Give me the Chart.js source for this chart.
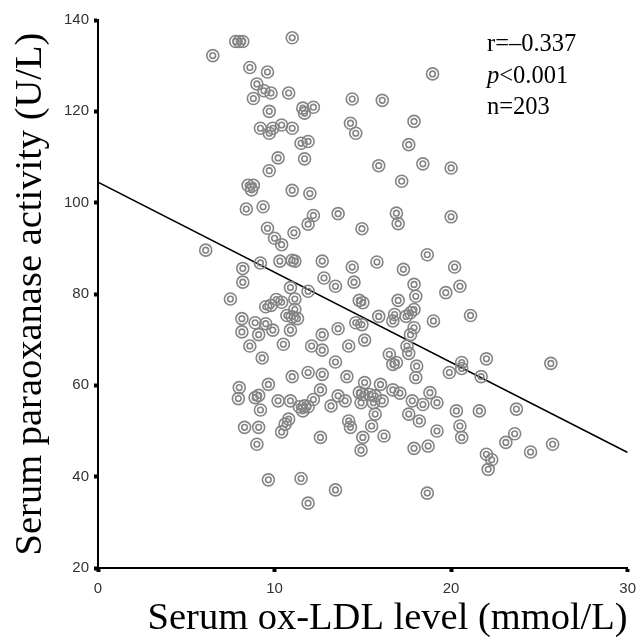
<!DOCTYPE html>
<html>
<head>
<meta charset="utf-8">
<script src="https://cdn.jsdelivr.net/npm/chart.js@4.4.1/dist/chart.umd.min.js"></script>
<style>
  body { margin: 0; background: #fff; }
  #wrap { width: 644px; height: 642px; }
</style>
</head>
<body>
<div id="wrap"><canvas id="chart" width="644" height="642"></canvas></div>
<script>
// serum ox-LDL (mmol/L)
const oxLdl = [
  7.8, 8.0, 8.2, 11.0, 6.5, 8.6, 9.6, 9.0, 9.4, 9.8, 10.8, 8.8, 9.7, 11.6, 11.7, 12.2, 14.4, 14.3, 14.6, 9.2,
  9.7, 9.9, 10.4, 11.0, 11.5, 11.9, 10.2, 9.7, 11.7, 8.5, 8.7, 8.8, 11.0, 12.0,
  18.95, 16.1, 17.9, 17.6, 15.9, 18.4, 20.0, 17.2,
  8.4, 9.35, 12.2, 13.6, 9.6, 10.0, 10.4, 11.1, 11.9, 6.1,
  8.2, 9.2, 10.3, 11.0, 11.15, 12.7, 14.4, 8.2, 10.9, 11.9,
  12.8, 13.45, 14.5, 7.5, 9.5, 9.8, 10.1, 10.4, 11.15, 11.15,
  10.7, 11.0, 11.3, 8.15, 8.9, 9.5, 9.9, 8.15, 9.1, 10.9,
  13.6, 12.7, 14.6, 8.6, 10.5, 12.1, 12.7, 14.2, 9.3, 13.45,
  11.9, 12.7, 11.0, 14.1,
  16.9, 17.0, 20.0, 14.95, 18.65, 15.8, 17.3, 20.2, 17.9, 18.0,
  19.7, 20.5, 14.8, 15.0, 17.0, 15.9, 16.8, 16.7, 17.45, 17.7,
  17.9, 19.0, 21.1, 14.95, 17.9, 17.7, 15.1, 17.5, 17.6, 16.5,
  16.7, 16.9, 18.05, 22.0, 20.6, 20.6, 19.9, 21.7,
  18.0, 15.1, 16.0, 14.8, 15.0, 15.4, 15.7, 16.1, 14.9, 15.6,
  16.7, 17.1, 18.8, 17.8, 18.4, 19.2, 20.3, 21.6, 15.7, 17.6,
  18.2, 15.5, 19.2, 20.5, 20.6, 15.0, 16.2, 14.9, 17.9, 18.7,
  23.6, 23.1, 22.0, 22.3, 22.1, 18.65,
  8.0, 7.95, 9.65, 8.9, 9.1, 9.2, 10.2, 10.9, 12.6, 11.4,
  11.7, 11.6, 11.9, 12.2, 13.2, 13.6, 14.0, 10.8, 10.6, 10.4,
  8.3, 9.1, 9.0, 12.6, 14.2, 14.3, 9.65, 11.5, 13.45, 11.9,
  25.65, 23.7, 24.5, 25.75
];
// serum paraoxonase activity (U/L), same order
const paraoxonase = [
  135.3, 135.3, 135.3, 136.1, 132.2, 129.6, 128.6, 126.0, 124.5, 124.0, 124.0, 122.8, 120.0, 120.7, 119.6, 120.9, 122.7, 117.4, 115.2, 116.3,
  115.2, 116.3, 117.0, 116.3, 113.0, 113.4, 109.8, 107.0, 109.6, 103.8, 102.8, 103.8, 102.7, 102.0,
  128.2, 122.4, 117.8, 112.7, 108.1, 108.5, 107.6, 104.7,
  98.6, 99.1, 97.2, 97.6, 94.4, 92.2, 90.8, 93.4, 95.3, 89.6,
  85.6, 86.8, 87.2, 87.4, 87.2, 87.2, 85.9, 82.6, 81.4, 80.6,
  83.5, 81.7, 82.6, 78.9, 77.2, 77.5, 78.8, 78.2, 78.9, 76.6,
  75.3, 75.0, 74.6, 74.6, 73.7, 73.5, 72.1, 71.7, 71.1, 72.1,
  72.4, 71.1, 73.7, 68.6, 69.0, 68.6, 67.7, 68.6, 66.0, 65.1,
  62.8, 62.4, 61.9, 61.9,
  97.7, 95.4, 96.9, 94.3, 88.6, 87.0, 85.4, 85.9, 82.1, 79.5,
  80.3, 81.7, 78.6, 78.1, 78.6, 75.1, 75.5, 74.1, 75.1, 75.9,
  76.6, 74.1, 75.3, 73.3, 72.6, 71.1, 69.9, 68.6, 67.0, 66.8,
  64.6, 65.0, 64.2, 65.8, 65.0, 63.7, 62.8, 61.9,
  61.7, 60.6, 60.2, 58.4, 58.0, 58.0, 57.7, 56.6, 56.2, 56.2,
  59.0, 58.3, 58.4, 56.6, 55.8, 56.2, 54.4, 54.4, 53.7, 53.7,
  52.2, 51.1, 50.0, 51.1, 48.6, 48.6, 48.9, 45.8, 46.2, 46.7,
  49.4, 47.5, 44.9, 43.7, 41.6, 36.4,
  59.5, 57.1, 60.2, 57.3, 57.8, 54.6, 56.6, 56.6, 59.0, 55.3,
  55.5, 54.4, 55.3, 56.9, 55.5, 57.7, 56.6, 52.6, 51.5, 49.8,
  50.8, 50.8, 47.1, 48.6, 52.2, 50.8, 39.3, 39.6, 37.1, 34.2,
  64.8, 54.8, 45.4, 47.1
];
// fitted regression line
const fitX = [0, 30];
const fitY = [104.5, 45.3];

const xTicks = [0, 10, 20, 30];
const yTicks = [20, 40, 60, 80, 100, 120, 140];

const points = oxLdl.map((x, i) => ({ x: x, y: paraoxonase[i] }));
const fitLine = fitX.map((x, i) => ({ x: x, y: fitY[i] }));

const statsText = {
  id: 'statsText',
  afterDraw(chart) {
    const ctx = chart.ctx;
    const a = chart.chartArea;
    const x0 = a.left + 389;
    ctx.save();
    ctx.fillStyle = '#000';
    ctx.textBaseline = 'alphabetic';
    ctx.font = '24.5px "Liberation Serif"';
    ctx.fillText('r=\u20130.337', x0, a.top + 31);
    ctx.font = 'italic 24.5px "Liberation Serif"';
    ctx.fillText('p', x0, a.top + 63);
    const pw = ctx.measureText('p').width;
    ctx.font = '24.5px "Liberation Serif"';
    ctx.fillText('<0.001', x0 + pw, a.top + 63);
    ctx.fillText('n=203', x0, a.top + 94);
    ctx.restore();
  }
};

const ringColor = '#858585';

new Chart(document.getElementById('chart'), {
  type: 'scatter',
  data: {
    datasets: [
      {
        data: points,
        pointRadius: 6,
        pointBorderWidth: 1.6,
        pointBorderColor: ringColor,
        pointBackgroundColor: 'rgba(0,0,0,0)'
      },
      {
        data: points,
        pointRadius: 2.8,
        pointBorderWidth: 1.6,
        pointBorderColor: ringColor,
        pointBackgroundColor: 'rgba(0,0,0,0)'
      },
      {
        type: 'line',
        data: fitLine,
        borderColor: '#000',
        borderWidth: 1.5,
        pointRadius: 0,
        fill: false
      }
    ]
  },
  options: {
    responsive: false,
    animation: false,
    layout: { padding: { top: 20, right: 11, left: 0, bottom: 0 } },
    plugins: { legend: { display: false }, tooltip: { enabled: false } },
    scales: {
      x: {
        type: 'linear',
        min: 0,
        max: 30,
        afterFit: s => { s.height = 74; },
        afterBuildTicks: s => { s.ticks = xTicks.map(v => ({ value: v })); },
        ticks: { color: '#333', font: { family: '"Liberation Sans"', size: 15 }, padding: 8 },
        grid: { drawOnChartArea: false, tickLength: 4, tickWidth: 4, tickColor: '#000' },
        border: { color: '#000', width: 2 },
        title: {
          display: true,
          text: 'Serum ox-LDL level (mmol/L)',
          align: 'end',
          color: '#000',
          font: { family: '"Liberation Serif"', size: 38.5 },
          padding: { top: 3, bottom: 0 }
        }
      },
      y: {
        min: 20,
        max: 140,
        afterFit: s => { s.width = 98; },
        afterBuildTicks: s => { s.ticks = yTicks.map(v => ({ value: v })); },
        ticks: { color: '#333', font: { family: '"Liberation Sans"', size: 15 }, padding: 5 },
        grid: { drawOnChartArea: false, tickLength: 4, tickWidth: 4, tickColor: '#000' },
        border: { color: '#000', width: 2 },
        title: {
          display: true,
          text: 'Serum paraoxanase activity (U/L)',
          color: '#000',
          font: { family: '"Liberation Serif"', size: 38.5 },
          padding: { top: 8, bottom: 0 }
        }
      }
    }
  },
  plugins: [statsText]
});
</script>
</body>
</html>
